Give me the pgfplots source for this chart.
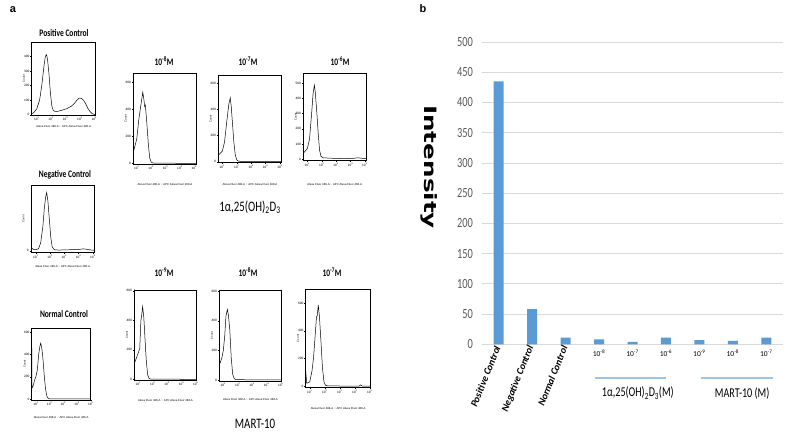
\documentclass[border=0pt]{standalone}
\usepackage{pgfplots}
\pgfplotsset{compat=1.18}
\usepackage{graphicx}
\usepackage{fontspec}
\setmainfont{Carlito}
\newfontfamily\dejavu{DejaVu Sans}
\newfontfamily\libsans{Liberation Sans}
\definecolor{barblue}{HTML}{5B9BD5}
\definecolor{gridgray}{HTML}{D9D9D9}
\definecolor{tickgray}{HTML}{595959}
\definecolor{grpblue}{HTML}{9DC3E6}
\pgfplotsset{
  hist/.style={
    anchor=south west, scale only axis,
    /pgf/number format/assume math mode=true,
    xtick={0,1,2,3,4},
    xticklabels={10\textsuperscript{1},10\textsuperscript{2},10\textsuperscript{3},10\textsuperscript{4},10\textsuperscript{5}},
    tick label style={font=\fontsize{3.2}{3.5}\selectfont\libsans, inner sep=0.8pt},
    tick align=outside, major tick length=1.3pt,
    tick style={black, line width=0.3pt},
    xtick pos=left, ytick pos=left,
    axis line style={line width=0.5pt},
    xlabel={Alexa Fluor 488-A :: APC Alexa Fluor 488-A},
    ylabel={Count},
    label style={font=\fontsize{2.8}{3}\selectfont\libsans},
    ylabel style={at={(axis description cs:-0.12,0.5)}, anchor=center},
    every axis plot post/.append style={black, line width=0.5pt, mark=none},
  },
  xlab/.style={xlabel style={at={(axis description cs:0.5,0)}, anchor=center, yshift=-#1}},
}
\tikzset{ttl/.style={font=\fontsize{10}{11}\selectfont\bfseries, xscale=0.75}}
\begin{document}
\begin{tikzpicture}
\fill[white] (0,0) rectangle (787pt,436pt);
\useasboundingbox (0,0) rectangle (787pt,436pt);

% ---------- Panel a ----------
% Positive control
\begin{axis}[hist, at={(31.7pt,321pt)}, width=64pt, height=73pt,
  xmin=-0.35, xmax=4.1, ymin=-2, ymax=498, ytick={0,100,200,300,400}, xlab=12pt]
\addplot coordinates {(-0.35,5) (-0.2,15) (0.0,40) (0.2,100) (0.35,200) (0.5,330) (0.6,400) (0.68,411) (0.75,380) (0.85,280) (0.95,150) (1.05,60) (1.15,28) (1.3,22) (1.5,24) (1.8,32) (2.1,42) (2.4,58) (2.6,75) (2.8,100) (2.95,114) (3.1,112) (3.25,100) (3.4,75) (3.55,45) (3.7,22) (3.85,8) (4.0,2) (4.1,1)};
\end{axis}
% Negative control
\begin{axis}[hist, at={(31pt,183.3pt)}, width=63.3pt, height=67.7pt,
  xmin=-0.33, xmax=4.1, ymin=-10, ymax=328, ytick={0}, xlab=14.3pt]
\addplot coordinates {(-0.33,8) (-0.25,12) (-0.15,6) (0.0,5) (0.2,10) (0.35,40) (0.5,120) (0.6,210) (0.7,270) (0.77,290) (0.85,250) (0.95,160) (1.05,70) (1.15,20) (1.3,5) (1.6,3) (2.0,4) (2.5,5) (3.0,6) (3.3,9) (3.5,8) (3.8,4) (4.1,2)};
\end{axis}
% Normal control
\begin{axis}[hist, at={(31.7pt,36pt)}, width=59pt, height=71.7pt,
  xmin=-0.31, xmax=4.0, ymin=-9, ymax=634, ytick={0,200,400,600}, xlab=17pt]
\addplot coordinates {(-0.31,660) (-0.30,95) (-0.2,120) (-0.1,170) (0.0,200) (0.1,260) (0.2,400) (0.3,480) (0.35,500) (0.42,460) (0.5,380) (0.6,220) (0.7,90) (0.8,25) (0.9,5) (1.0,1) (1.3,0) (4.0,0)};
\end{axis}
% 1a,25(OH)2D3 10^-8
\begin{axis}[hist, at={(133.3pt,272pt)}, width=63.4pt, height=90.7pt,
  xmin=-0.24, xmax=4.17, ymin=-5, ymax=666, ytick={0,200,400,600}, xlab=21pt]
\addplot coordinates {(-0.24,680) (-0.23,85) (0.0,180) (0.15,330) (0.3,440) (0.42,526) (0.5,470) (0.55,420) (0.6,430) (0.7,300) (0.8,150) (0.9,40) (1.0,10) (1.1,3) (1.3,1) (4.17,0)};
\end{axis}
% 10^-7
\begin{axis}[hist, at={(218.3pt,273.3pt)}, width=63.4pt, height=87pt,
  xmin=-0.28, xmax=4.12, ymin=-7.7, ymax=659, ytick={0,200,400,600}, xlab=22pt]
\addplot coordinates {(-0.28,50) (0.0,80) (0.15,150) (0.3,300) (0.45,440) (0.55,490) (0.62,420) (0.7,300) (0.8,150) (0.9,50) (1.0,15) (1.1,5) (1.3,2) (4.12,0)};
\end{axis}
% 10^-6
\begin{axis}[hist, at={(303.3pt,275.3pt)}, width=62.7pt, height=87.4pt,
  xmin=-0.28, xmax=4.08, ymin=-9, ymax=563, ytick={0,100,200,300,400,500}, xlab=24pt]
\addplot coordinates {(-0.28,40) (0.0,70) (0.15,130) (0.3,300) (0.4,430) (0.49,485) (0.55,440) (0.65,320) (0.75,180) (0.85,60) (0.95,20) (1.1,10) (1.5,8) (2.0,6) (2.5,5) (3.2,6) (3.5,10) (3.7,8) (4.08,4)};
\end{axis}
% MART-10 10^-9
\begin{axis}[hist, at={(134.3pt,56pt)}, width=62.4pt, height=90pt,
  xmin=-0.28, xmax=4.06, ymin=-4.7, ymax=605, ytick={0,200,400,600}, xlab=20pt]
\addplot coordinates {(-0.28,650) (-0.27,110) (-0.15,140) (0.0,180) (0.1,210) (0.18,400) (0.23,430) (0.3,492) (0.38,420) (0.45,300) (0.55,130) (0.65,30) (0.75,5) (0.9,1) (4.06,0)};
\end{axis}
% 10^-8
\begin{axis}[hist, at={(219.3pt,55pt)}, width=62.4pt, height=91pt,
  xmin=-0.28, xmax=4.06, ymin=-6.8, ymax=608, ytick={0,200,400,600}, xlab=19pt]
\addplot coordinates {(-0.28,100) (-0.1,150) (0.0,200) (0.1,300) (0.18,430) (0.28,477) (0.35,440) (0.45,340) (0.55,150) (0.65,40) (0.75,10) (0.9,2) (4.06,0)};
\end{axis}
% 10^-7
\begin{axis}[hist, at={(305.7pt,48.7pt)}, width=65pt, height=98pt,
  xmin=-0.27, xmax=4.07, ymin=-9.4, ymax=701, ytick={0,200,400,600}, xlab=21pt]
\addplot coordinates {(-0.27,110) (-0.2,20) (0.0,30) (0.15,110) (0.25,200) (0.35,350) (0.45,500) (0.5,510) (0.57,587) (0.65,500) (0.75,320) (0.85,130) (0.95,30) (1.05,5) (1.2,1) (2.0,0) (3.3,0) (3.4,8) (3.5,0) (4.07,0)};
\end{axis}

\node[font=\fontsize{11}{12}\selectfont\libsans\bfseries] at (13pt,426pt) {a};
\node[ttl] at (64pt,403pt) {Positive Control};
\node[ttl] at (65pt,261pt) {Negative Control};
\node[ttl] at (64pt,122pt) {Normal Control};
\node[ttl] at (164pt,375pt) {10\textsuperscript{-8}M};
\node[ttl] at (248pt,375pt) {10\textsuperscript{-7}M};
\node[ttl] at (340pt,375pt) {10\textsuperscript{-6}M};
\node[ttl] at (164pt,164pt) {10\textsuperscript{-9}M};
\node[ttl] at (248pt,164pt) {10\textsuperscript{-8}M};
\node[ttl] at (332pt,164pt) {10\textsuperscript{-7}M};
\node[font=\fontsize{14.5}{15}\selectfont, xscale=0.75] at (250pt,229pt) {1α,25(OH)\textsubscript{2}D\textsubscript{3}};
\node[font=\fontsize{14.5}{15}\selectfont, xscale=0.75] at (255pt,12pt) {MART-10};

% ---------- Panel b ----------
\node[font=\fontsize{11}{12}\selectfont\libsans\bfseries] at (423pt,427pt) {b};
\begin{axis}[
  at={(482pt,91.7pt)}, anchor=south west,
  scale only axis, width=301pt, height=302.3pt,
  xmin=-0.5, xmax=8.5, ymin=0, ymax=500,
  ytick={0,50,...,500},
  ymajorgrids, grid style={draw=gridgray, line width=0.8pt},
  axis line style={draw=none},
  major tick length=0pt,
  ybar, bar width=10pt,
  /pgf/number format/assume math mode=true,
  yticklabel style={font=\fontsize{14}{14}\selectfont, text=tickgray, inner sep=0pt, xshift=-9pt, xscale=0.74},
  xtick={3,4,5,6,7,8},
  xticklabels={10\textsuperscript{-8},10\textsuperscript{-7},10\textsuperscript{-6},10\textsuperscript{-9},10\textsuperscript{-8},10\textsuperscript{-7}},
  xticklabel style={font=\fontsize{7.5}{8}\selectfont, anchor=north, yshift=-2pt},
  extra x ticks={0,1,2},
  extra x tick labels={Positive Control,Negative Control,Normal Control},
  extra x tick style={xticklabel style={rotate=68, anchor=east, yshift=1pt, xshift=3pt, font=\fontsize{10}{11}\selectfont\bfseries\itshape}},
  ylabel={\scalebox{1.45}[1]{\fontsize{17}{20}\selectfont\dejavu\bfseries Intensity}},
  ylabel style={rotate=180, at={(axis description cs:-0.176,0.586)}, anchor=center},
  clip=false,
]
\addplot[fill=barblue, draw=none] coordinates {(0,435) (1,58) (2,11) (3,8) (4,4) (5,11) (6,7) (7,5.5) (8,11)};
\draw[draw=grpblue, line width=1.5pt] (axis cs:2.88,-55.8) -- (axis cs:5.0,-55.8);
\draw[draw=grpblue, line width=1.5pt] (axis cs:6.05,-55.8) -- (axis cs:8.2,-55.8);
\node[font=\fontsize{13.5}{14}\selectfont, xscale=0.75] at (axis cs:4.16,-80.6) {1α,25(OH)\textsubscript{2}D\textsubscript{3}(M)};
\node[font=\fontsize{13.5}{14}\selectfont, xscale=0.75] at (axis cs:7.28,-80.6) {MART-10 (M)};
\end{axis}
\end{tikzpicture}
\end{document}
